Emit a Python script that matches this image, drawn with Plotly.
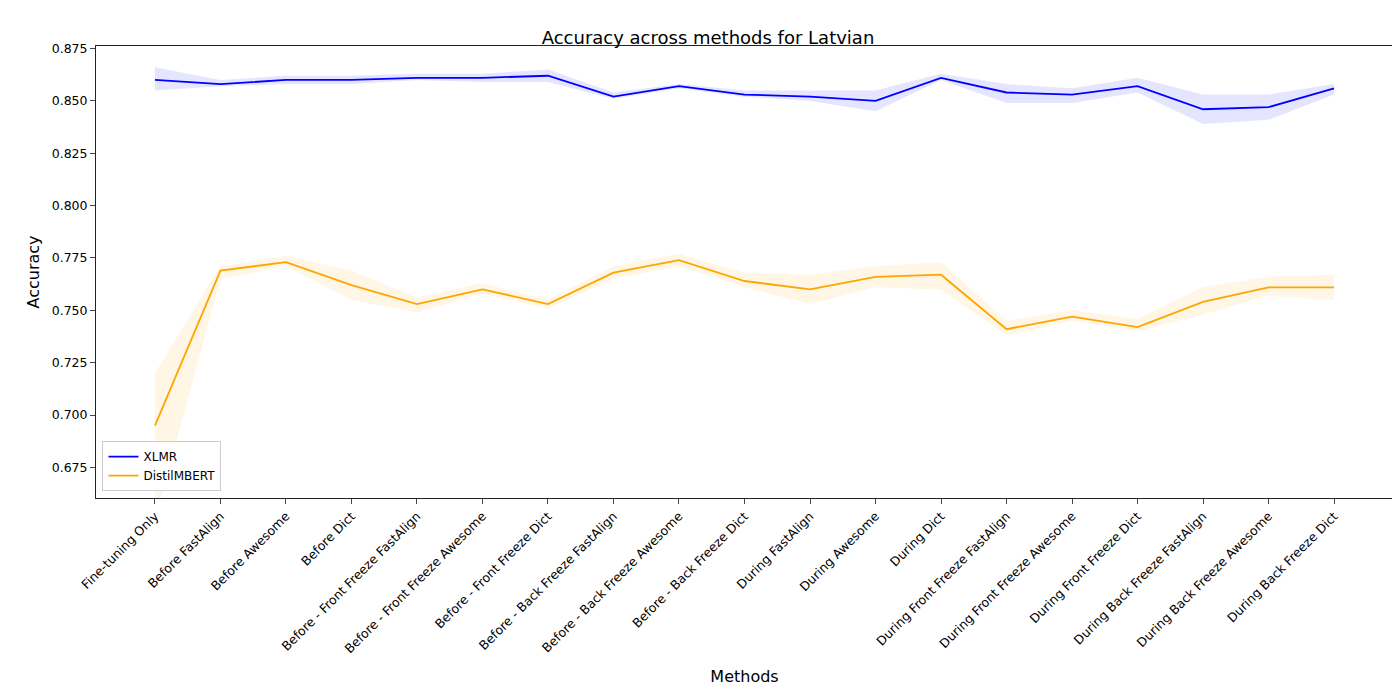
import plotly.graph_objects as go

methods = ["Fine-tuning Only", "Before FastAlign", "Before Awesome", "Before Dict",
           "Before - Front Freeze FastAlign", "Before - Front Freeze Awesome", "Before - Front Freeze Dict",
           "Before - Back Freeze FastAlign", "Before - Back Freeze Awesome", "Before - Back Freeze Dict",
           "During FastAlign", "During Awesome", "During Dict",
           "During Front Freeze FastAlign", "During Front Freeze Awesome", "During Front Freeze Dict",
           "During Back Freeze FastAlign", "During Back Freeze Awesome", "During Back Freeze Dict"]

xlmr_mean = [0.860, 0.858, 0.860, 0.860, 0.861, 0.861, 0.862, 0.852, 0.857, 0.853,
             0.852, 0.850, 0.861, 0.854, 0.853, 0.857, 0.846, 0.847, 0.856]
xlmr_low = [0.855, 0.857, 0.858, 0.858, 0.860, 0.859, 0.859, 0.851, 0.856, 0.852,
            0.850, 0.845, 0.860, 0.849, 0.849, 0.854, 0.839, 0.841, 0.853]
xlmr_high = [0.866, 0.860, 0.862, 0.862, 0.863, 0.863, 0.865, 0.854, 0.858, 0.855,
             0.855, 0.855, 0.863, 0.858, 0.856, 0.861, 0.853, 0.853, 0.858]

distil_mean = [0.695, 0.769, 0.773, 0.762, 0.753, 0.760, 0.753, 0.768, 0.774, 0.764,
               0.760, 0.766, 0.767, 0.741, 0.747, 0.742, 0.754, 0.761, 0.761]
distil_low = [0.650, 0.765, 0.771, 0.755, 0.749, 0.758, 0.751, 0.765, 0.771, 0.761,
              0.753, 0.761, 0.760, 0.738, 0.745, 0.740, 0.748, 0.757, 0.755]
distil_high = [0.720, 0.771, 0.776, 0.769, 0.756, 0.763, 0.755, 0.771, 0.777, 0.768,
               0.767, 0.771, 0.773, 0.745, 0.750, 0.746, 0.761, 0.766, 0.767]

idx = list(range(len(methods)))

fig = go.Figure()

def add_series(name, mean, low, high, color, fill):
    fig.add_trace(go.Scatter(x=idx, y=high, mode="lines", line=dict(width=0),
                             showlegend=False, hoverinfo="skip"))
    fig.add_trace(go.Scatter(x=idx, y=low, mode="lines", line=dict(width=0),
                             fill="tonexty", fillcolor=fill, showlegend=False, hoverinfo="skip"))
    fig.add_trace(go.Scatter(x=idx, y=mean, mode="lines", name=name,
                             line=dict(color=color, width=1.8)))

add_series("XLMR", xlmr_mean, xlmr_low, xlmr_high, "blue", "rgba(0,0,255,0.1)")
add_series("DistilMBERT", distil_mean, distil_low, distil_high, "orange", "rgba(255,165,0,0.1)")

fig.update_layout(
    width=1400, height=700,
    template="simple_white",
    font=dict(family="DejaVu Sans", size=12, color="black"),
    title=dict(text="Accuracy across methods for Latvian", x=0.5, xanchor="center",
               y=0.967, font=dict(size=18)),
    margin=dict(l=88, r=15, t=38, b=210),
    legend=dict(x=0.005, y=0.015, xanchor="left", yanchor="bottom", traceorder="normal",
                bordercolor="#cccccc", borderwidth=1, font=dict(size=12)),
    xaxis=dict(title=dict(text="Methods", font=dict(size=16)), tickmode="array",
               tickvals=idx, ticktext=methods, tickangle=-45, range=[-0.9, 18.9],
               mirror=True, ticks="outside", showline=True, automargin=False,
               tickfont=dict(size=12.5)),
    yaxis=dict(title=dict(text="Accuracy", font=dict(size=16), standoff=8), range=[0.6604, 0.8762],
               tickformat=".3f", dtick=0.025, tick0=0.675, mirror=True, ticks="outside",
               showline=True, automargin=False, tickfont=dict(size=12.5)),
)

fig.write_html("out.html")
